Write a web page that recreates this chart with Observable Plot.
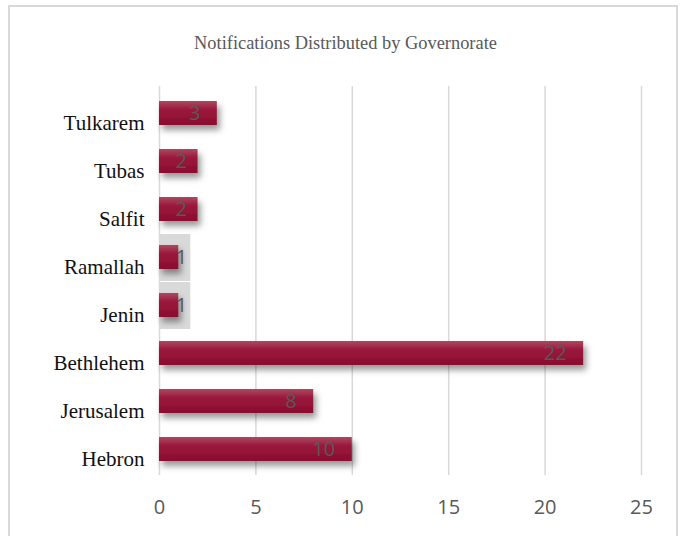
<!DOCTYPE html>
<html>
<head>
<meta charset="utf-8">
<script src="https://cdn.jsdelivr.net/npm/d3@7"></script>
<script src="https://cdn.jsdelivr.net/npm/@observablehq/plot@0.6"></script>
<style>
  body { margin: 0; background: #fff; width: 682px; height: 536px; overflow: hidden; position: relative; }
  #frame { position: absolute; left: 8px; top: 5px; width: 670px; height: 600px; border: 2px solid #d9d9d9; box-sizing: border-box; pointer-events: none; }
  #title { height: 70px; box-sizing: border-box; padding-top: 33px; padding-left: 9px; text-align: center;
           font-family: "Liberation Serif", serif; font-size: 18.4px; line-height: 20px; color: #595959; }
  #chart svg { display: block; }
</style>
</head>
<body>
<div id="frame"></div>
<div id="title">Notifications Distributed by Governorate</div>
<div id="chart"></div>
<script>
const governorates = ["Tulkarem", "Tubas", "Salfit", "Ramallah", "Jenin", "Bethlehem", "Jerusalem", "Hebron"];
const notifications = [3, 2, 2, 1, 1, 22, 8, 10];
const xTicks = [0, 5, 10, 15, 20, 25];

const data = governorates.map((g, i) => ({governorate: g, value: notifications[i]}));
const labelFont = {fontFamily: "'Open Sans', sans-serif", fontSize: 20, fill: "#595959"};

const chart = Plot.plot({
  width: 682,
  height: 466,
  marginLeft: 159,
  marginRight: 41,
  marginTop: 16,
  marginBottom: 61,
  x: {domain: [0, 25]},
  y: {domain: governorates, paddingInner: 0.5, paddingOuter: 0.25},
  marks: [
    Plot.ruleX(xTicks.filter(t => t > 0), {stroke: "#d9d9d9", strokeWidth: 1.5, strokeOpacity: 1}),
    Plot.ruleX([0], {stroke: "#d9d9d9", strokeWidth: 1.5}),
    Plot.barX(data.filter(d => d.value === 1), {x: "value", y: "governorate", fill: "#d9d9d9",
      insetRight: -12, insetTop: -11, insetBottom: -12}),
    Plot.barX(data, {x: "value", y: "governorate", fill: "url(#barGrad)", ariaLabel: "mainbars"}),
    Plot.text(data.filter(d => d.value >= 3), {x: "value", y: "governorate", text: d => String(d.value),
      textAnchor: "end", dx: -17, ...labelFont}),
    Plot.text(data.filter(d => d.value === 2), {x: "value", y: "governorate", text: d => String(d.value),
      textAnchor: "end", dx: -11, ...labelFont}),
    Plot.text(data.filter(d => d.value === 1), {x: "value", y: "governorate", text: d => String(d.value),
      textAnchor: "start", dx: -3, ...labelFont}),
    Plot.axisY({tickSize: 0, tickPadding: 15, dy: 10, label: null,
      fontFamily: "'Liberation Serif', serif", fontSize: 21, fill: "#111"}),
    Plot.axisX({ticks: xTicks, tickSize: 0, tickPadding: 24, label: null,
      fontFamily: "'Open Sans', sans-serif", fontSize: 20, fill: "#595959"})
  ]
});

const svg = d3.select(chart);
const defs = svg.insert("defs", ":first-child");
const grad = defs.append("linearGradient").attr("id", "barGrad")
  .attr("x1", 0).attr("y1", 0).attr("x2", 0).attr("y2", 1);
grad.append("stop").attr("offset", "0%").attr("stop-color", "#ab4a60");
grad.append("stop").attr("offset", "35%").attr("stop-color", "#9a1a3d");
grad.append("stop").attr("offset", "100%").attr("stop-color", "#8b0a2f");
const f = defs.append("filter").attr("id", "shadow").attr("filterUnits", "userSpaceOnUse")
  .attr("x", 0).attr("y", 0).attr("width", 682).attr("height", 466);
f.append("feDropShadow").attr("dx", 3).attr("dy", 5).attr("stdDeviation", 3)
  .attr("flood-color", "#000").attr("flood-opacity", 0.4);
svg.selectAll("g").filter(function() { return this.getAttribute("fill") === "url(#barGrad)"; })
  .attr("filter", "url(#shadow)");

document.getElementById("chart").appendChild(chart);
</script>
</body>
</html>
